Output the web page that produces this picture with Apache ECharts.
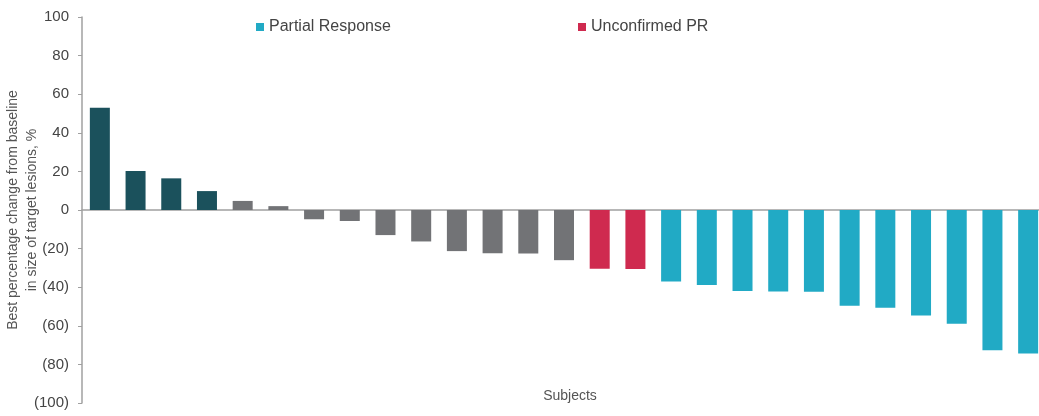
<!DOCTYPE html>
<html>
<head>
<meta charset="utf-8">
<script src="https://cdn.jsdelivr.net/npm/echarts@6/dist/echarts.min.js"></script>
<style>html,body{margin:0;padding:0;background:#fff}#c{width:1039px;height:416px}</style>
</head>
<body>
<div id="c"></div>
<script>
const subjects = Array.from({length: 27}, (_, i) => 'S' + (i + 1));
const values = [53, 20.2, 16.4, 9.8, 4.7, 2, -4.8, -5.7, -13, -16.3, -21.3, -22.4, -22.6, -26, -30.4, -30.6, -37.1, -38.8, -42, -42.2, -42.4, -49.6, -50.6, -54.6, -58.9, -72.7, -74.4];
const groups = ['PD','PD','PD','PD','SD','SD','SD','SD','SD','SD','SD','SD','SD','SD','UPR','UPR','PR','PR','PR','PR','PR','PR','PR','PR','PR','PR','PR'];
const seriesNames = {PD: 'Progressive', SD: 'Stable', UPR: 'Unconfirmed PR', PR: 'Partial Response'};
const seriesColors = {PD: '#1b515c', SD: '#727376', UPR: '#cf2a4f', PR: '#21aac5'};
const yTicks = [-100, -80, -60, -40, -20, 0, 20, 40, 60, 80, 100];
const xTitle = 'Subjects';
const yTitle = 'Best percentage change from baseline\nin size of target lesions, %';

const font = '"Liberation Sans", Arial, Helvetica, sans-serif';
const series = Object.keys(seriesNames).map(k => ({
  name: seriesNames[k],
  type: 'bar',
  barWidth: 20,
  barGap: '-100%',
  itemStyle: {color: seriesColors[k]},
  data: values.map((v, i) => groups[i] === k ? v : '-')
}));

const chart = echarts.init(document.getElementById('c'));
chart.setOption({
  animation: false,
  textStyle: {fontFamily: font},
  title: {
    text: xTitle, left: 565, top: 384, textAlign: 'center',
    textStyle: {fontSize: 14, color: '#555', fontWeight: 'normal', fontFamily: font}
  },
  legend: [
    {data: ['Partial Response'], left: 251, top: 14, icon: 'rect', itemWidth: 8, itemHeight: 8, itemGap: 5,
     textStyle: {fontSize: 16, color: '#444', fontFamily: font}},
    {data: ['Unconfirmed PR'], left: 573, top: 14, icon: 'rect', itemWidth: 8, itemHeight: 8, itemGap: 5,
     textStyle: {fontSize: 16, color: '#444', fontFamily: font}}
  ],
  grid: {left: 82, top: 17, width: 964, height: 386, containLabel: false, outerBoundsMode: 'none'},
  xAxis: {
    type: 'category',
    data: subjects,
    axisLine: {onZero: true, lineStyle: {color: '#a0a0a0', width: 1.5}},
    axisTick: {show: false},
    axisLabel: {show: false}
  },
  yAxis: {
    type: 'value',
    min: -100, max: 100, interval: 20,
    name: yTitle,
    nameLocation: 'middle',
    nameGap: 40,
    nameMoveOverlap: false,
    nameRotate: 90,
    nameTextStyle: {fontSize: 14, color: '#555', lineHeight: 19},
    axisLine: {show: true, lineStyle: {color: '#a0a0a0', width: 1.5}},
    axisTick: {show: true, length: 4, lineStyle: {color: '#a0a0a0'}},
    splitLine: {show: false},
    axisLabel: {
      fontSize: 15, color: '#444', margin: 13,
      formatter: v => (yTicks.includes(v) ? (v < 0 ? '(' + Math.abs(v) + ')' : String(v)) : '')
    }
  },
  series: series
});
</script>
</body>
</html>
